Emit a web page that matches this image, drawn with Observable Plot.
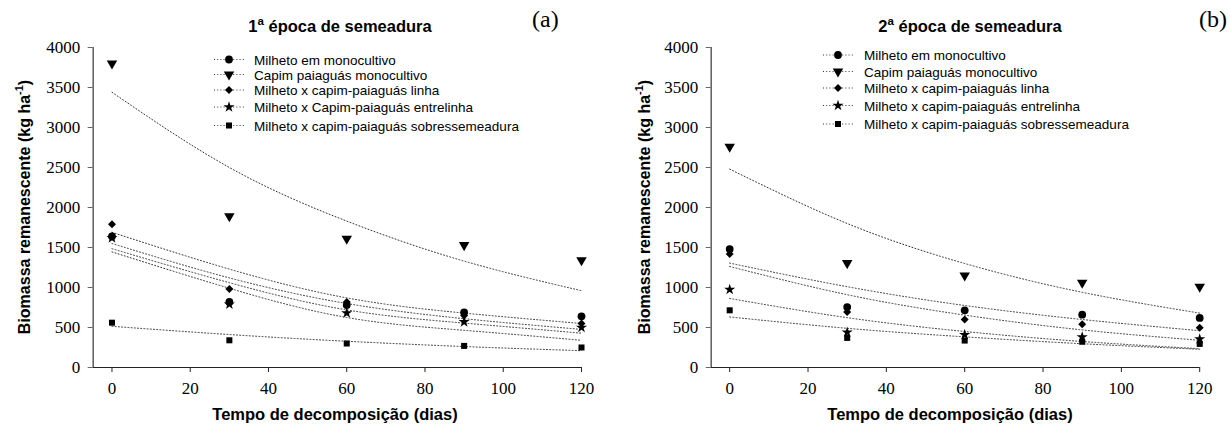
<!DOCTYPE html>
<html><head><meta charset="utf-8">
<script src="https://cdn.jsdelivr.net/npm/d3@7"></script>
<script src="https://cdn.jsdelivr.net/npm/@observablehq/plot@0.6"></script>
<style>
body{margin:0;background:#fff;}
#wrap{display:flex;width:1230px;height:425px;}
#wrap svg{display:block;flex:none;}
</style></head><body><div id="wrap"></div>
<script>
// ---------- data ----------
const days = [0, 30, 60, 90, 120];
const xTicks = [0, 20, 40, 60, 80, 100, 120];
const yTicks = [0, 500, 1000, 1500, 2000, 2500, 3000, 3500, 4000];

const names1 = ["Milheto em monocultivo", "Capim paiaguás monocultivo", "Milheto x capim-paiaguás linha", "Milheto x Capim-paiaguás entrelinha", "Milheto x capim-paiaguás sobressemeadura"];
const names2 = ["Milheto em monocultivo", "Capim paiaguás monocultivo", "Milheto x capim-paiaguás linha", "Milheto x capim-paiaguás entrelinha", "Milheto x capim-paiaguás sobressemeadura"];

// 1ª época – observed means
const e1Milheto = [1640, 820, 780, 690, 640];
const e1Capim = [3800, 1890, 1610, 1530, 1340];
const e1Linha = [1790, 980, 820, 650, 550];
const e1Entrelinha = [1620, 790, 680, 570, 500];
const e1Sobre = [560, 340, 300, 270, 250];
// 1ª época – fitted curves
const e1FitCapim = [3440, 2500, 1830, 1330, 960];
const e1FitA = [1690, 1230, 870, 680, 550];
const e1FitB = [1550, 1120, 800, 610, 476];
const e1FitC = [1485, 1060, 720, 555, 429];
const e1FitD = [1445, 990, 625, 465, 340];
const e1FitSobre = [515, 412, 328, 262, 210];

// 2ª época – observed means
const e2Milheto = [1480, 755, 715, 660, 620];
const e2Capim = [2760, 1305, 1150, 1060, 1010];
const e2Linha = [1420, 695, 600, 540, 497];
const e2Entrelinha = [975, 440, 410, 380, 355];
const e2Sobre = [715, 370, 337, 322, 295];
// 2ª época – fitted curves
const e2FitCapim = [2480, 1800, 1300, 940, 680];
const e2FitMilheto = [1305, 1010, 775, 600, 460];
const e2FitLinha = [1263, 910, 655, 470, 340];
const e2FitEntrelinha = [863, 623, 450, 325, 235];
const e2FitSobre = [632, 490, 383, 297, 228];

// ---------- symbols ----------
const triangleDown = {
  draw(context, size) {
    const y = -Math.sqrt(size / (Math.sqrt(3) * 3));
    context.moveTo(0, -y * 2);
    context.lineTo(Math.sqrt(3) * y, y);
    context.lineTo(-Math.sqrt(3) * y, y);
    context.closePath();
  }
};
const symbolDefs = [
  {sym: "circle", d3sym: d3.symbolCircle, r: 3.9},
  {sym: triangleDown, d3sym: triangleDown, r: 3.9},
  {sym: "diamond2", d3sym: d3.symbolDiamond2, r: 3.6},
  {sym: "star", d3sym: d3.symbolStar, r: 3.5},
  {sym: "square", d3sym: d3.symbolSquare, r: 3.4}
];

const dotStyle = {stroke: "#333", strokeWidth: 1, strokeDasharray: "1,2.2"};

function toRows(arr) { return arr.map((v, i) => ({x: days[i], y: v})); }

function makePanel(cfg) {
  const marks = [];
  cfg.fits.forEach(f => marks.push(Plot.line(toRows(f), {x: "x", y: "y", curve: "natural", ...dotStyle})));
  cfg.series.forEach((s, i) => marks.push(Plot.dot(toRows(s), {x: "x", y: "y", symbol: symbolDefs[i].sym, r: symbolDefs[i].r, fill: "#000", stroke: "none"})));
  marks.push(Plot.ruleY([0], {stroke: "#222", strokeWidth: 1}));
  marks.push(Plot.ruleX([cfg.xDomain[0]], {stroke: "#666", strokeWidth: 1.6}));
  marks.push(Plot.axisX({ticks: xTicks, tickFormat: d => String(d), tickSize: 5, tickPadding: 9, stroke: "#222", label: null, fontFamily: "Liberation Serif", fontSize: 17}));
  marks.push(Plot.axisY({ticks: yTicks, tickFormat: d => String(d), tickSize: 5, tickPadding: 8, stroke: "#666", label: null, fontFamily: "Liberation Serif", fontSize: 17}));

  const svg = Plot.plot({
    width: 615, height: 425,
    marginLeft: cfg.marginLeft, marginRight: cfg.marginRight, marginTop: 47, marginBottom: 58,
    style: {fontFamily: "Liberation Serif", fontSize: "17px", color: "#000", background: "#fff"},
    x: {domain: cfg.xDomain},
    y: {domain: [0, 4000]},
    marks
  });

  const g = d3.select(svg).append("g").attr("font-family", "Liberation Sans, Arial, sans-serif").attr("fill", "#000").attr("text-anchor", "start");
  // title
  const t = g.append("text").attr("x", cfg.titleX).attr("y", 31.5).attr("text-anchor", "middle").attr("font-weight", "bold").attr("font-size", 16.5);
  t.append("tspan").text(cfg.titleNum);
  t.append("tspan").attr("dy", -7).attr("font-size", 11.5).text("a");
  t.append("tspan").attr("dy", 7).text(" época de semeadura");
  // panel letter
  g.append("text").attr("x", cfg.letterX).attr("y", 27).attr("text-anchor", "start").attr("font-family", "Liberation Serif, Times New Roman, serif").attr("font-size", 24).text(cfg.letter);
  // y label
  const yl = g.append("text").attr("transform", `translate(${cfg.yLabelX},207) rotate(-90)`).attr("text-anchor", "middle").attr("font-weight", "bold").attr("font-size", 16);
  yl.append("tspan").text("Biomassa remanescente (kg ha");
  yl.append("tspan").attr("dy", -7).attr("font-size", 11).text("-1");
  yl.append("tspan").attr("dy", 7).text(")");
  // x label
  g.append("text").attr("x", cfg.xLabelX).attr("y", 419.5).attr("text-anchor", "middle").attr("font-weight", "bold").attr("font-size", 16.5).text("Tempo de decomposição (dias)");
  // legend
  cfg.names.forEach((name, i) => {
    const y = cfg.legendY[i];
    g.append("line").attr("x1", cfg.legendX - 15).attr("x2", cfg.legendX + 16).attr("y1", y).attr("y2", y)
      .attr("stroke", "#333").attr("stroke-dasharray", "1,2.2");
    const r = symbolDefs[i].r;
    g.append("path").attr("transform", `translate(${cfg.legendX},${y})`)
      .attr("d", d3.symbol(symbolDefs[i].d3sym, r * r * Math.PI)()).attr("fill", "#000");
    g.append("text").attr("x", cfg.legendX + cfg.legendGap).attr("y", y + 5).attr("text-anchor", "start").attr("font-size", 13.5).text(name);
  });
  return svg;
}

const wrap = document.getElementById("wrap");
wrap.appendChild(makePanel({
  series: [e1Milheto, e1Capim, e1Linha, e1Entrelinha, e1Sobre],
  fits: [e1FitCapim, e1FitA, e1FitB, e1FitC, e1FitD, e1FitSobre],
  names: names1,
  xDomain: [-4.8, 120], marginLeft: 92.7, marginRight: 34,
  titleNum: "1", titleX: 340, letter: "(a)", letterX: 532,
  yLabelX: 30, xLabelX: 335,
  legendX: 229, legendGap: 25, legendY: [59.5, 74.5, 90, 107, 125.5]
}));
wrap.appendChild(makePanel({
  series: [e2Milheto, e2Capim, e2Linha, e2Entrelinha, e2Sobre],
  fits: [e2FitCapim, e2FitMilheto, e2FitLinha, e2FitEntrelinha, e2FitSobre],
  names: names2,
  xDomain: [-4.72, 120], marginLeft: 95.7, marginRight: 30.8,
  titleNum: "2", titleX: 355, letter: "(b)", letterX: 584,
  yLabelX: 35, xLabelX: 335,
  legendX: 223, legendGap: 26, legendY: [55, 71.5, 88, 105.5, 124]
}));
</script></body></html>
